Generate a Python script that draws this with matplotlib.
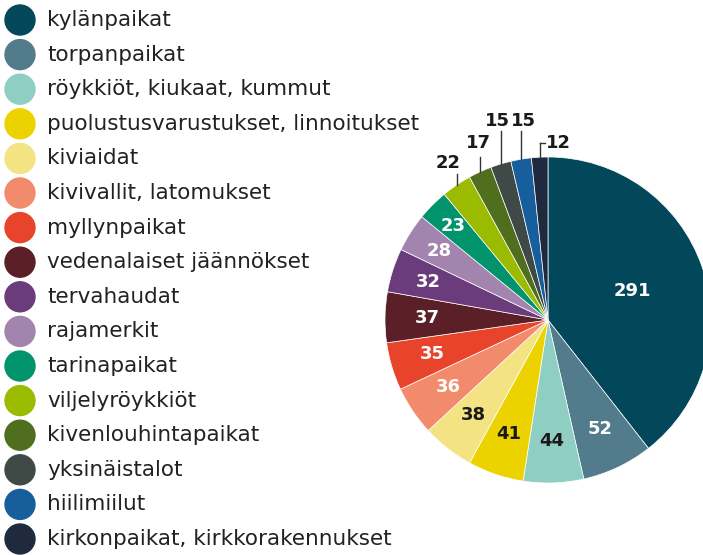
import numpy as np
import matplotlib.pyplot as plt
from matplotlib.patches import Circle

categories = ['kylänpaikat', 'torpanpaikat', 'röykkiöt, kiukaat, kummut',
              'puolustusvarustukset, linnoitukset', 'kiviaidat',
              'kivivallit, latomukset', 'myllynpaikat', 'vedenalaiset jäännökset',
              'tervahaudat', 'rajamerkit', 'tarinapaikat', 'viljelyröykkiöt',
              'kivenlouhintapaikat', 'yksinäistalot', 'hiilimiilut',
              'kirkonpaikat, kirkkorakennukset']
counts = [291, 52, 44, 41, 38, 36, 35, 37, 32, 28, 23, 22, 17, 15, 15, 12]
colors = ['#02475a', '#527b8c', '#8fcfc3', '#ecd300', '#f3e383', '#f18b6b',
          '#e8432b', '#5b2027', '#6b3c7b', '#a284ae', '#00936c', '#9bbb00',
          '#4f6f1e', '#3f4a46', '#175f9c', '#1f2a3f']
dark_text = {'röykkiöt, kiukaat, kummut', 'puolustusvarustukset, linnoitukset', 'kiviaidat'}
outside = ['viljelyröykkiöt', 'kivenlouhintapaikat', 'yksinäistalot', 'hiilimiilut',
           'kirkonpaikat, kirkkorakennukset']

W, H = 703, 555
fig = plt.figure(figsize=(W / 100, H / 100), dpi=100)
ax = fig.add_axes([0, 0, 1, 1])

# pixel-like coordinates, y pointing down
cx, cy, R = 548, 320, 163
wedges, _ = ax.pie(counts, colors=colors, center=(cx, cy), radius=R,
                   startangle=-90, counterclock=True,
                   wedgeprops=dict(edgecolor='white', linewidth=0.5))
ax.set_xlim(0, W)
ax.set_ylim(H, 0)
ax.set_aspect('auto')
ax.axis('off')

num_font = dict(family='DejaVu Sans', fontsize=13, fontweight='bold')

# inner labels
label_r = {'kylänpaikat': 0.55, 'rajamerkit': 0.79, 'tarinapaikat': 0.82,
           'tervahaudat': 0.77}
for w, name, n in zip(wedges, categories, counts):
    if name in outside:
        continue
    mid = np.deg2rad((w.theta1 + w.theta2) / 2)
    r = R * label_r.get(name, 0.74)
    col = '#1a1a1a' if name in dark_text else 'white'
    ax.text(cx + r * np.cos(mid), cy + r * np.sin(mid), str(n), color=col,
            ha='center', va='center', **num_font)

# outer labels with leader lines (line top, text y, text x offset)
leaders = {'viljelyröykkiöt': (174, 163, -8),
           'kivenlouhintapaikat': (157, 143, -2),
           'yksinäistalot': (131, 121, -3),
           'hiilimiilut': (131, 121, 2),
           'kirkonpaikat, kirkkorakennukset': (143, 143, None)}
for w, name, n in zip(wedges, categories, counts):
    if name not in outside:
        continue
    mid = np.deg2rad((w.theta1 + w.theta2) / 2)
    x0, y0 = cx + R * np.cos(mid), cy + R * np.sin(mid)
    top, ty, dx = leaders[name]
    ax.plot([x0, x0], [y0, top], color='#333333', lw=1)
    if dx is None:
        ax.plot([x0, x0 + 5], [top, top], color='#333333', lw=1)
        ax.text(x0 + 6, ty, str(n), ha='left', va='center', color='#1a1a1a', **num_font)
    else:
        ax.text(x0 + dx, ty, str(n), ha='center', va='center', color='#1a1a1a', **num_font)

# legend
for i, (name, col) in enumerate(zip(categories, colors)):
    y = 20 + i * 34.6
    ax.add_patch(Circle((20, y), 15, color=col, clip_on=False))
    ax.text(47, y, name, ha='left', va='center', fontsize=15.5,
            family='DejaVu Sans', color='#222222')

fig.savefig('out.png', dpi=100)
